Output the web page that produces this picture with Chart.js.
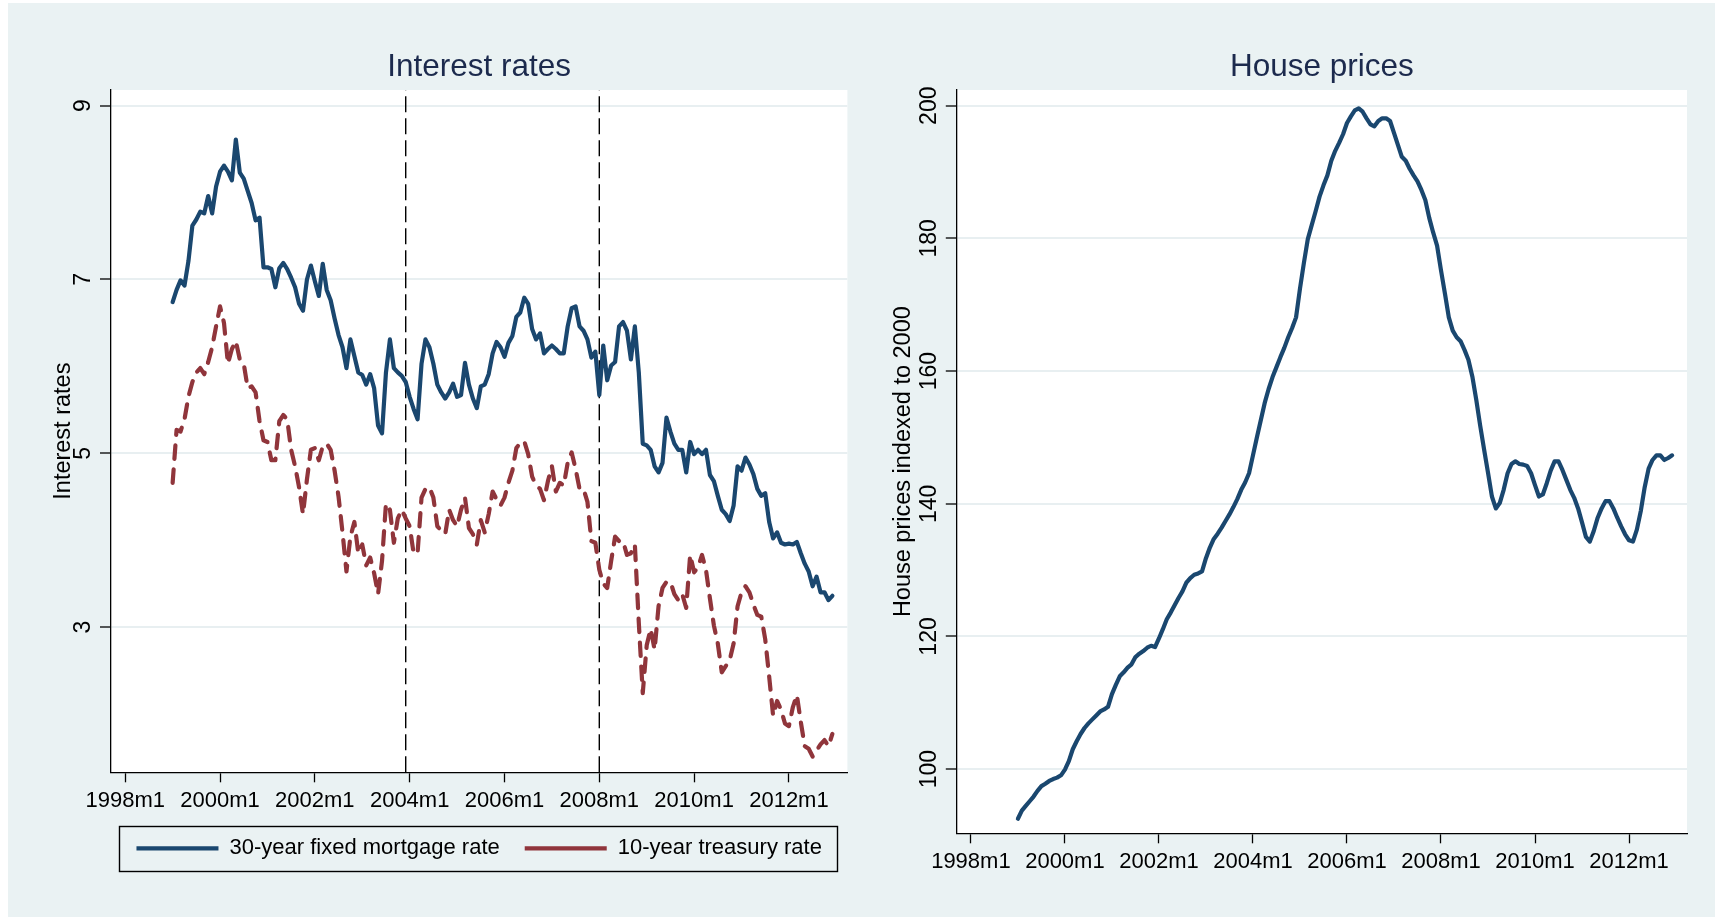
<!DOCTYPE html>
<html>
<head>
<meta charset="utf-8">
<script src="https://cdn.jsdelivr.net/npm/chart.js@4.4.1/dist/chart.umd.min.js"></script>
<style>
  html, body { margin: 0; padding: 0; width: 1722px; height: 917px; overflow: hidden; background: #ffffff; }
  #bg { position: absolute; left: 8px; top: 3px; width: 1707px; height: 914px; background: #EAF2F3; }
  canvas { position: absolute; top: 0; }
  #c1 { left: 0; }
  #c2 { left: 861px; }
</style>
</head>
<body>
<div id="bg"></div>
<canvas id="c1" width="861" height="917"></canvas>
<canvas id="c2" width="861" height="917"></canvas>
<script>
// ---------------- DATA ----------------
const months = [];               // 1999m1 .. 2012m12 (monthly categories)
for (let y = 1999; y <= 2012; y++) for (let m = 1; m <= 12; m++) months.push(y + 'm' + m);

const mortgageRate = [
  6.74, 6.88, 6.99, 6.93, 7.21, 7.62, 7.69, 7.78, 7.76, 7.96, 7.76, 8.07,
  8.24, 8.31, 8.24, 8.14, 8.61, 8.23, 8.16, 8.02, 7.88, 7.68, 7.71, 7.14,
  7.14, 7.12, 6.91, 7.13, 7.19, 7.12, 7.02, 6.91, 6.72, 6.64, 7.00, 7.16,
  6.98, 6.81, 7.18, 6.88, 6.76, 6.55, 6.36, 6.22, 5.98, 6.31, 6.12, 5.93,
  5.90, 5.79, 5.91, 5.75, 5.32, 5.23, 5.93, 6.31, 5.98, 5.93, 5.89, 5.82,
  5.65, 5.51, 5.39, 6.03, 6.31, 6.22, 6.03, 5.79, 5.70, 5.63, 5.70, 5.80,
  5.65, 5.67, 6.04, 5.79, 5.63, 5.52, 5.77, 5.79, 5.91, 6.15, 6.28, 6.22,
  6.11, 6.27, 6.35, 6.57, 6.62, 6.79, 6.72, 6.43, 6.31, 6.38, 6.15, 6.20,
  6.24, 6.20, 6.15, 6.15, 6.46, 6.67, 6.69, 6.46, 6.41, 6.31, 6.10, 6.17,
  5.67, 6.24, 5.84, 6.01, 6.05, 6.46, 6.51, 6.41, 6.08, 6.46, 5.93, 5.11,
  5.09, 5.04, 4.85, 4.78, 4.89, 5.41, 5.25, 5.11, 5.04, 5.04, 4.78, 5.13,
  4.99, 5.04, 4.99, 5.04, 4.75, 4.68, 4.51, 4.35, 4.30, 4.22, 4.40, 4.85,
  4.80, 4.95, 4.87, 4.76, 4.59, 4.51, 4.54, 4.21, 4.02, 4.09, 3.97, 3.95,
  3.96, 3.95, 3.98, 3.85, 3.73, 3.64, 3.47, 3.58, 3.40, 3.40, 3.31, 3.36
];
const treasuryRate = [
  4.66, 5.27, 5.25, 5.39, 5.65, 5.82, 5.93, 5.98, 5.91, 6.05, 6.22, 6.46,
  6.69, 6.50, 6.03, 6.20, 6.29, 6.08, 6.03, 5.75, 5.77, 5.70, 5.37, 5.15,
  5.13, 4.92, 4.92, 5.37, 5.44, 5.39, 5.04, 4.85, 4.61, 4.30, 4.70, 5.04,
  5.06, 4.92, 5.08, 5.11, 5.04, 4.80, 4.50, 4.09, 3.64, 4.04, 4.21, 3.85,
  3.95, 3.71, 3.80, 3.62, 3.38, 3.76, 4.42, 4.35, 3.97, 4.25, 4.35, 4.25,
  4.16, 3.85, 3.85, 4.49, 4.59, 4.61, 4.49, 4.16, 4.11, 4.07, 4.35, 4.23,
  4.16, 4.35, 4.49, 4.14, 4.07, 3.95, 4.23, 4.09, 4.30, 4.56, 4.47, 4.40,
  4.49, 4.66, 4.80, 5.06, 5.12, 5.14, 4.99, 4.73, 4.63, 4.59, 4.46, 4.68,
  4.85, 4.56, 4.66, 4.63, 4.89, 5.01, 4.82, 4.59, 4.59, 4.44, 3.99, 3.97,
  3.66, 3.50, 3.45, 3.76, 4.04, 3.99, 3.99, 3.83, 3.85, 3.95, 3.05, 2.24,
  2.79, 2.98, 2.74, 3.24, 3.45, 3.52, 3.52, 3.38, 3.31, 3.38, 3.22, 3.83,
  3.63, 3.69, 3.83, 3.66, 3.33, 3.02, 2.81, 2.48, 2.55, 2.62, 2.81, 3.24,
  3.40, 3.47, 3.40, 3.26, 3.14, 3.12, 2.86, 2.43, 1.98, 2.15, 2.05, 1.89,
  1.86, 2.08, 2.22, 1.91, 1.63, 1.60, 1.51, 1.58, 1.65, 1.70, 1.63, 1.77
];
const housePrices = [
  92.53, 93.74, 94.45, 95.16, 95.87, 96.73, 97.44, 97.79, 98.22, 98.51, 98.72, 99.07,
  99.93, 101.2, 103.0, 104.2, 105.3, 106.2, 106.9, 107.5, 108.1, 108.7, 109.0, 109.4,
  111.3, 112.7, 114.0, 114.6, 115.3, 115.8, 116.9, 117.4, 117.8, 118.3, 118.6, 118.4,
  119.7, 121.1, 122.6, 123.6, 124.7, 125.8, 126.8, 128.1, 128.8, 129.3, 129.5, 129.8,
  131.8, 133.4, 134.7, 135.5, 136.4, 137.4, 138.4, 139.5, 140.7, 142.1, 143.2, 144.6,
  147.3, 150.0, 152.6, 155.2, 157.3, 159.1, 160.6, 162.1, 163.5, 165.1, 166.5, 168.1,
  172.4, 176.3, 179.9, 182.0, 184.1, 186.3, 188.0, 189.5, 191.7, 193.2, 194.4, 195.7,
  197.4, 198.4, 199.3, 199.6, 199.1, 198.1, 197.2, 196.9, 197.7, 198.1, 198.1, 197.7,
  195.9, 194.1, 192.3, 191.7, 190.5, 189.5, 188.6, 187.3, 185.8, 183.1, 180.9, 178.9,
  175.2, 171.7, 168.1, 166.1, 165.1, 164.5, 163.2, 161.7, 159.2, 155.7, 151.8, 148.2,
  144.7, 141.1, 139.3, 140.1, 142.1, 144.6, 146.0, 146.4, 146.0, 145.9, 145.7, 144.6,
  142.8, 141.1, 141.4, 143.1, 145.0, 146.4, 146.4, 145.1, 143.6, 142.1, 140.9, 139.3,
  137.2, 135.0, 134.3, 135.9, 137.9, 139.3, 140.4, 140.4, 139.3, 137.9, 136.6, 135.4,
  134.5, 134.3, 136.1, 138.9, 142.5, 145.3, 146.6, 147.3, 147.3, 146.6, 146.9, 147.3
];
const eventMonths = ['2003m12', '2008m1'];
const xTickLabels = ['1998m1', '2000m1', '2002m1', '2004m1', '2006m1', '2008m1', '2010m1', '2012m1'];
const rateTicks = [3, 5, 7, 9];
const priceTicks = [100, 120, 140, 160, 180, 200];
const seriesNames = ['30-year fixed mortgage rate', '10-year treasury rate'];
const titles = ['Interest rates', 'House prices'];
const yTitles = ['Interest rates', 'House prices indexed to 2000'];

// ---------------- HELPERS ----------------
const tm = s => { const p = s.split('m'); return (Number(p[0]) - 1960) * 12 + (Number(p[1]) - 1); };
const fmtTm = v => (1960 + Math.floor(v / 12)) + 'm' + (v % 12 + 1);
const pts = vals => vals.map((v, i) => ({ x: tm(months[i]), y: v }));

const NAVY = '#1A476F', MAROON = '#90353B', TITLE = '#1c2a4d', GRID = '#e8eff1';
const REG = "'Liberation Sans', Arial, sans-serif";
const X_MIN = 452.4, X_MAX = 638.8;
const LW = 4.2;

Chart.defaults.font.family = REG;
Chart.defaults.color = '#000';

const plotBg = {
  id: 'plotBg',
  beforeDraw(chart) {
    const { ctx, chartArea: a } = chart;
    ctx.save(); ctx.fillStyle = '#ffffff';
    ctx.fillRect(a.left, a.top, a.right - a.left, a.bottom - a.top);
    ctx.restore();
  }
};
const legendBox = {
  id: 'legendBox',
  afterDraw(chart) {
    const lg = chart.legend;
    if (!lg || !lg.legendHitBoxes || !lg.legendHitBoxes.length) return;
    const hb = lg.legendHitBoxes, last = hb[hb.length - 1];
    const l = hb[0].left - 17, r = last.left + last.width + 16;
    const cy = hb[0].top + hb[0].height / 2;
    const ctx = chart.ctx;
    ctx.save(); ctx.strokeStyle = '#000'; ctx.lineWidth = 1.4;
    ctx.strokeRect(Math.round(l) + 0.5, Math.round(cy - 22.4) + 0.5, Math.round(r - l), 45);
    ctx.restore();
  }
};

function xScale(height) {
  return {
    type: 'linear', min: X_MIN, max: X_MAX,
    afterBuildTicks: s => { s.ticks = xTickLabels.map(t => ({ value: tm(t) })); },
    afterFit: s => { s.height = height; },
    ticks: { callback: v => fmtTm(v), font: { family: REG, size: 22 }, color: '#000',
             padding: 5.3, minRotation: 0, maxRotation: 0, autoSkip: false },
    grid: { drawOnChartArea: false, drawTicks: true, tickLength: 10, tickColor: '#000', tickWidth: 1.3 },
    border: { display: true, color: '#000', width: 1.3 }
  };
}
function yScale(min, max, tickVals, width, labelPad, title, titlePad) {
  return {
    type: 'linear', min, max,
    afterBuildTicks: s => { s.ticks = tickVals.map(v => ({ value: v })); },
    afterFit: s => { s.width = width; },
    ticks: { font: { family: REG, size: 23 }, color: '#000', padding: labelPad,
             minRotation: 90, maxRotation: 90, crossAlign: 'center', autoSkip: false },
    grid: { color: GRID, lineWidth: 2, drawTicks: true, tickLength: 11, tickColor: '#000', tickWidth: 1.3 },
    border: { display: true, color: '#000', width: 1.3 },
    title: { display: true, text: title, font: { family: REG, size: 23.5 }, color: '#000',
             padding: { top: titlePad, bottom: 0 } }
  };
}
const titleOpts = text => ({
  display: true, text, color: TITLE, fullSize: false,
  font: { family: REG, size: 31.5, weight: 'normal' },
  padding: { top: 48.6, bottom: 3.6 }
});

// ---------------- LEFT CHART ----------------
const R_MIN = 1.329, R_MAX = 9.18;
const vlineSets = eventMonths.map(m => ({
  label: 'event ' + m,
  data: [{ x: tm(m), y: R_MIN }, { x: tm(m), y: R_MAX }],
  borderColor: '#000', borderWidth: 1.4, borderDash: [16, 6],
  pointRadius: 0, fill: false, tension: 0
}));
const chart1 = new Chart(document.getElementById('c1'), {
  type: 'line',
  data: {
    datasets: [
      { label: seriesNames[0], data: pts(mortgageRate), borderColor: NAVY, backgroundColor: NAVY,
        borderWidth: LW, pointRadius: 0, tension: 0, borderJoinStyle: 'round', borderCapStyle: 'round' },
      { label: seriesNames[1], data: pts(treasuryRate), borderColor: MAROON, backgroundColor: MAROON,
        borderWidth: LW, pointRadius: 0, tension: 0, borderDash: [13.5, 10.5], borderJoinStyle: 'round', borderCapStyle: 'round' },
      ...vlineSets
    ]
  },
  options: {
    responsive: false, animation: false, events: [],
    layout: { autoPadding: false, padding: { left: 0, top: 0, right: 13.6, bottom: 47.6 } },
    scales: {
      x: xScale(40.1),
      y: yScale(R_MIN, R_MAX, rateTicks, 111, 10.4, yTitles[0], 49.9)
    },
    plugins: {
      title: titleOpts(titles[0]),
      legend: {
        display: true, position: 'bottom', fullSize: false,
        labels: {
          filter: item => item.datasetIndex < 2,
          usePointStyle: true, pointStyle: 'line', pointStyleWidth: 82,
          padding: 25, color: '#000', font: { family: REG, size: 22 }
        }
      },
      tooltip: { enabled: false }
    }
  },
  plugins: [plotBg, legendBox]
});

// ---------------- RIGHT CHART ----------------
const P_MIN = 90.33, P_MAX = 202.37;
const chart2 = new Chart(document.getElementById('c2'), {
  type: 'line',
  data: {
    datasets: [
      { label: 'House prices', data: pts(housePrices), borderColor: NAVY, backgroundColor: NAVY,
        borderWidth: LW, pointRadius: 0, tension: 0, borderJoinStyle: 'round', borderCapStyle: 'round' }
    ]
  },
  options: {
    responsive: false, animation: false, events: [],
    layout: { autoPadding: false, padding: { left: 0, top: 0, right: 35, bottom: 33.7 } },
    scales: {
      x: xScale(50),
      y: yScale(P_MIN, P_MAX, priceTicks, 95.8, -3, yTitles[1], 28.9)
    },
    plugins: {
      title: titleOpts(titles[1]),
      legend: { display: false },
      tooltip: { enabled: false }
    }
  },
  plugins: [plotBg]
});
</script>
</body>
</html>
